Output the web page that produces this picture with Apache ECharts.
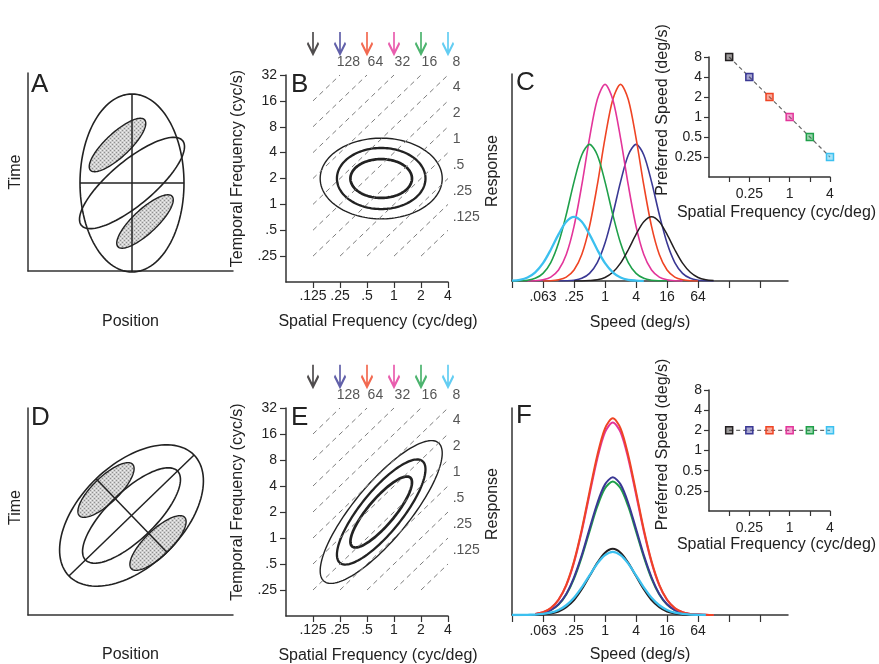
<!DOCTYPE html>
<html>
<head>
<meta charset="utf-8">
<title>Speed tuning figure</title>
<script src="https://cdn.jsdelivr.net/npm/echarts@6/dist/echarts.min.js"></script>
<style>
html,body{margin:0;padding:0;background:#fff;}
#chart{width:879px;height:664px;}
</style>
</head>
<body>
<div id="chart"></div>
<script>
const L2 = Math.log2;
const FONT = '"Liberation Sans", Arial, Helvetica, sans-serif';
const INK = '#222222';
const AXC = '#333333';

// ================= DATA =================
// Panels A / D: space-time receptive field sketch, panel units (x = position, y = time)
// [centerX, centerY, semiAxis1, semiAxis2, tiltDeg]
const rfA_outer = [104, 88, 52, 89, 0];
const rfA_inner = [104, 88, 66, 22, 40];
const rfA_lobe1 = [89.5, 126, 37, 12, 43];
const rfA_lobe2 = [117, 49.5, 37, 12, 43];
const rfD_outer = [103.5, 99.5, 87, 51, 44];
const rfD_inner = [103.5, 99.5, 64, 24, 44];
const rfD_lobe1 = [78, 125, 37, 13, 44];
const rfD_lobe2 = [130, 72, 37, 13, 44];

// Panels B / E: spectral receptive field contours
const sfTicks = [0.125, 0.25, 0.5, 1, 2, 4];
const sfTickLabels = ['.125', '.25', '.5', '1', '2', '4'];
const tfTicks = [0.25, 0.5, 1, 2, 4, 8, 16, 32];
const tfTickLabels = ['.25', '.5', '1', '2', '4', '8', '16', '32'];
const isoSpeeds = [128, 64, 32, 16, 8, 4, 2, 1, 0.5, 0.25, 0.125];
const isoSpeedLabels = ['128', '64', '32', '16', '8', '4', '2', '1', '.5', '.25', '.125'];
const contourCenterSF = 0.72;
const contourCenterTF = 2.0;
const contourSemiSF = [1.14, 1.64, 2.26];   // octaves
const contourSemiTF = [0.75, 1.18, 1.56];   // octaves
const contourShearB = 0;
const contourShearE = 1;

// stimulus spatial frequencies (arrows / curve colours)
const stimSF = [0.125, 0.25, 0.5, 1, 2, 4];
const stimColors = ['#231f20', '#3a3894', '#ef4424', '#e3359a', '#1fa04a', '#3cc0ef'];

// Panels C / F: speed tuning curves
const speedTicks = [1 / 64, 1 / 16, 1 / 4, 1, 4, 16, 64, 256, 1024];
const speedTickLabels = ['', '.063', '.25', '1', '4', '16', '64', '', ''];
const speedLog2 = [-6, -5.5, -5, -4.5, -4, -3.5, -3, -2.5, -2, -1.5, -1, -0.5, 0, 0.5, 1, 1.5, 2, 2.5, 3, 3.5, 4, 4.5, 5, 5.5, 6, 6.5, 7];

const respC_sf0125 = [null, null, null, null, null, null, null, null, 0, 0, .002, .006, .017, .042, .086, .151, .225, .286, .310, .286, .225, .151, .086, .042, .017, .006, .002];
const respC_sf025 = [null, null, null, null, null, null, 0, .001, .004, .013, .037, .089, .183, .321, .479, .609, .660, .609, .479, .321, .183, .089, .037, .013, .004, .001, 0];
const respC_sf05 = [null, null, null, null, 0, .001, .006, .019, .053, .128, .264, .463, .690, .877, .950, .877, .690, .463, .264, .128, .053, .019, .006, .001, 0, null, null];
const respC_sf1 = [null, null, 0, .001, .006, .019, .053, .128, .264, .463, .690, .877, .950, .877, .690, .463, .264, .128, .053, .019, .006, .001, 0, null, null, null, null];
const respC_sf2 = [0, .001, .004, .013, .037, .089, .183, .321, .479, .609, .660, .609, .479, .321, .183, .089, .037, .013, .004, .001, 0, null, null, null, null, null, null];
const respC_sf4 = [.002, .006, .017, .042, .086, .151, .225, .286, .310, .286, .225, .151, .086, .042, .017, .006, .002, 0, null, null, null, null, null, null, null, null, null];

const respF_sf0125 = [null, null, null, .001, .003, .007, .017, .038, .072, .124, .188, .252, .301, .320, .301, .252, .188, .124, .072, .038, .017, .007, .003, .001, 0, null, null];
const respF_sf025 = [null, null, null, .004, .010, .024, .052, .102, .182, .289, .416, .540, .631, .665, .631, .540, .416, .289, .182, .102, .052, .024, .010, .004, .001, 0, null];
const respF_sf05 = [null, null, null, .005, .014, .034, .074, .146, .259, .413, .595, .771, .902, .950, .902, .771, .595, .413, .259, .146, .074, .034, .014, .005, .002, .001, 0];
const respF_sf1 = [null, null, null, .005, .014, .033, .073, .143, .254, .405, .582, .755, .883, .930, .883, .755, .582, .405, .254, .143, .073, .033, .014, .005, .002, .001, 0];
const respF_sf2 = [null, null, null, .004, .010, .023, .050, .099, .176, .281, .404, .524, .612, .645, .612, .524, .404, .281, .176, .099, .050, .023, .010, .004, .001, 0, null];
const respF_sf4 = [0, 0, .001, .002, .005, .011, .024, .047, .083, .133, .191, .248, .289, .305, .289, .248, .191, .133, .083, .047, .024, .011, .005, .002, .001, 0, null];

// Insets: preferred speed vs spatial frequency
const insetSF = [0.125, 0.25, 0.5, 1, 2, 4];
const insetSFTickLabels = ['', '0.25', '', '1', '', '4'];
const insetSpeedTicks = [0.25, 0.5, 1, 2, 4, 8];
const insetSpeedTickLabels = ['0.25', '0.5', '1', '2', '4', '8'];
const prefSpeedC = [8, 4, 2, 1, 0.5, 0.25];
const prefSpeedF = [2, 2, 2, 2, 2, 2];

// ================= HELPERS =================
function makeHatch() {
  const c = document.createElement('canvas');
  c.width = 4; c.height = 4;
  const g = c.getContext('2d');
  g.fillStyle = '#cfcfcf'; g.fillRect(0, 0, 4, 4);
  g.fillStyle = '#8f8f8f'; g.fillRect(0, 0, 1, 1); g.fillRect(2, 2, 1, 1);
  g.fillStyle = '#f0f0f0'; g.fillRect(2, 0, 1, 1); g.fillRect(0, 2, 1, 1);
  return { image: c, repeat: 'repeat' };
}
const hatch = makeHatch();

function tint(hex, a) {
  const n = parseInt(hex.slice(1), 16);
  return 'rgba(' + (n >> 16) + ',' + ((n >> 8) & 255) + ',' + (n & 255) + ',' + a + ')';
}
function lookup(ticks, labels) {
  return v => { const i = ticks.findIndex(t => Math.abs(L2(t) - v) < 1e-6); return i < 0 ? '' : labels[i]; };
}
function ellipsePts(cx, cy, a, b, deg) {
  const th = deg * Math.PI / 180, c = Math.cos(th), s = Math.sin(th), n = 120, pts = [];
  for (let k = 0; k < n; k++) {
    const t = 2 * Math.PI * k / n, x = a * Math.cos(t), y = b * Math.sin(t);
    pts.push([cx + x * c - y * s, cy + x * s + y * c]);
  }
  return pts;
}
function toXY(arr) {
  const out = [];
  arr.forEach((v, i) => { if (v !== null) out.push([speedLog2[i], v]); });
  return out;
}

function plainAxis(grid, min, max, name, gap, pad, rot) {
  return {
    type: 'value', gridIndex: grid, min: min, max: max,
    axisLine: { show: true, onZero: false, lineStyle: { color: AXC, width: 1.5 } },
    axisTick: { show: false }, axisLabel: { show: false }, splitLine: { show: false },
    name: name, nameLocation: 'middle', nameGap: gap, nameRotate: rot || 0,
    nameTextStyle: { fontFamily: FONT, fontSize: 16, color: INK, padding: pad || 0 }
  };
}
function tickedAxis(grid, min, max, ticks, labels, labelTicks, name, gap, pad, rot, tickLen, margin) {
  const o = plainAxis(grid, min, max, name, gap, pad, rot);
  o.axisTick = { show: true, customValues: ticks.map(L2), length: tickLen, lineStyle: { color: AXC, width: 1.2 } };
  o.axisLabel = { show: true, customValues: labelTicks.map(L2), formatter: lookup(ticks, labels), margin: margin,
    fontFamily: FONT, fontSize: 14, color: INK };
  return o;
}

function rfSeries(gi, outer, inner, lobes) {
  return {
    type: 'custom', xAxisIndex: gi, yAxisIndex: gi, coordinateSystem: 'cartesian2d', silent: true,
    data: [[outer[0], outer[1]]],
    renderItem: (params, api) => {
      const poly = e => ellipsePts(e[0], e[1], e[2], e[3], e[4]).map(p => api.coord(p));
      const ch = [];
      lobes.forEach(e => ch.push({ type: 'polygon', shape: { points: poly(e) }, style: { fill: hatch, stroke: INK, lineWidth: 1.4 } }));
      ch.push({ type: 'polygon', shape: { points: poly(inner) }, style: { fill: 'none', stroke: INK, lineWidth: 1.6 } });
      ch.push({ type: 'polygon', shape: { points: poly(outer) }, style: { fill: 'none', stroke: INK, lineWidth: 1.6 } });
      const cx = outer[0], cy = outer[1], a = outer[2], b = outer[3], th = outer[4] * Math.PI / 180;
      const c = Math.cos(th), s = Math.sin(th);
      const lines = [
        [[cx - a * c, cy - a * s], [cx + a * c, cy + a * s]],
        [[cx + b * s, cy - b * c], [cx - b * s, cy + b * c]]
      ];
      lines.forEach(l => {
        const p = api.coord(l[0]), q = api.coord(l[1]);
        ch.push({ type: 'line', shape: { x1: p[0], y1: p[1], x2: q[0], y2: q[1] }, style: { stroke: INK, lineWidth: 1.5 } });
      });
      return { type: 'group', children: ch };
    }
  };
}

function contourSeries(gi, shear) {
  const cx = L2(contourCenterSF), cy = L2(contourCenterTF);
  const widths = [2.7, 2.3, 1.4];
  return {
    type: 'custom', xAxisIndex: gi, yAxisIndex: gi, coordinateSystem: 'cartesian2d', silent: true,
    data: [[cx, cy]],
    renderItem: (params, api) => {
      const ch = contourSemiSF.map((rx, k) => {
        const ry = contourSemiTF[k], pts = [];
        for (let j = 0; j < 140; j++) {
          const t = 2 * Math.PI * j / 140, dx = rx * Math.cos(t);
          pts.push(api.coord([cx + dx, cy + ry * Math.sin(t) + shear * dx]));
        }
        return { type: 'polygon', shape: { points: pts }, style: { fill: 'none', stroke: INK, lineWidth: widths[k] } };
      });
      return { type: 'group', children: ch };
    }
  };
}

function isoSeries(gi) {
  const xmin = L2(sfTicks[0]), xmax = L2(sfTicks[sfTicks.length - 1]);
  const ymin = L2(tfTicks[0]), ymax = L2(tfTicks[tfTicks.length - 1]);
  return isoSpeeds.map(v => {
    const lv = L2(v), x0 = Math.max(xmin, ymin - lv), x1 = Math.min(xmax, ymax - lv);
    return {
      type: 'line', xAxisIndex: gi, yAxisIndex: gi, silent: true, symbol: 'none',
      data: [[x0, x0 + lv], [x1, x1 + lv]],
      lineStyle: { color: '#7d7d7d', width: 1, type: [5, 4] }
    };
  });
}

function isoLabelSeries(gi) {
  const xmax = L2(sfTicks[sfTicks.length - 1]), ymax = L2(tfTicks[tfTicks.length - 1]);
  const data = isoSpeeds.map((v, i) => {
    const lv = L2(v);
    if (ymax - lv <= xmax) {
      return { name: isoSpeedLabels[i], value: [ymax - lv + 0.33, ymax + 0.46], label: { align: 'center' } };
    }
    return { name: isoSpeedLabels[i], value: [xmax + 0.19, xmax + lv + 0.5], label: { align: 'left' } };
  });
  return {
    type: 'scatter', xAxisIndex: gi, yAxisIndex: gi, clip: false, silent: true,
    symbol: 'circle', symbolSize: 1, itemStyle: { color: 'rgba(0,0,0,0)' }, data: data,
    label: { show: true, position: [0, 0], formatter: '{b}', verticalAlign: 'middle',
      fontFamily: FONT, fontSize: 14, color: '#2a2a2a' }
  };
}

function arrowSeries(gi) {
  const ymax = L2(tfTicks[tfTicks.length - 1]);
  return {
    type: 'scatter', xAxisIndex: gi, yAxisIndex: gi, clip: false, silent: true,
    symbol: 'path://M5 0L5 20M0.5 10.5L5 21L9.5 10.5', symbolSize: [11, 22],
    data: stimSF.map((sf, i) => ({
      value: [L2(sf), ymax + 1.24],
      itemStyle: { color: 'rgba(0,0,0,0)', borderColor: stimColors[i], borderWidth: 2.4 }
    }))
  };
}

function curveSeries(gi, arr, color, w) {
  return {
    type: 'line', xAxisIndex: gi, yAxisIndex: gi, silent: true, symbol: 'none',
    smooth: 0.3, data: toXY(arr), lineStyle: { color: color, width: w }
  };
}

function insetSeries(gi, speeds) {
  return {
    type: 'line', xAxisIndex: gi, yAxisIndex: gi, silent: true, symbol: 'rect', symbolSize: 7, showSymbol: true,
    lineStyle: { color: '#666', width: 1.2, type: [4, 3] },
    data: insetSF.map((sf, i) => ({
      value: [L2(sf), L2(speeds[i])],
      itemStyle: { color: tint(stimColors[i], 0.45), borderColor: stimColors[i], borderWidth: 1.5 }
    }))
  };
}

// ================= OPTION =================
const grids = [
  { left: 28, top: 73, width: 205, height: 198 },   // A
  { left: 286, top: 75, width: 162, height: 207 },  // B
  { left: 512, top: 74, width: 276, height: 207 },  // C
  { left: 709, top: 57, width: 121, height: 120 },  // C inset
  { left: 28, top: 408, width: 205, height: 207 },  // D
  { left: 286, top: 408, width: 162, height: 208 }, // E
  { left: 512, top: 408, width: 276, height: 207 }, // F
  { left: 709, top: 390, width: 121, height: 121 }  // F inset
].map(g => Object.assign({ containLabel: false, outerBoundsMode: 'none' }, g));

const sfName = 'Spatial Frequency (cyc/deg)';
const tfName = 'Temporal Frequency (cyc/s)';
const spName = 'Speed (deg/s)';
const psName = 'Preferred Speed (deg/s)';

const xAxes = [
  plainAxis(0, 0, 205, 'Position', 43),
  tickedAxis(1, -4, 2, sfTicks, sfTickLabels, sfTicks, sfName, 32, [0, 0, 0, 22], 0, 6, 7),
  tickedAxis(2, -6, 11.8, speedTicks, speedTickLabels, speedTicks, spName, 34, [0, 20, 0, 0], 0, 7, 9),
  tickedAxis(3, -4, 2, insetSF, insetSFTickLabels, insetSF, sfName, 28, [0, 0, 0, 14], 0, 5, 10),
  plainAxis(4, 0, 205, 'Position', 32),
  tickedAxis(5, -4, 2, sfTicks, sfTickLabels, sfTicks, sfName, 32, [0, 0, 0, 22], 0, 6, 7),
  tickedAxis(6, -6, 11.8, speedTicks, speedTickLabels, speedTicks, spName, 32, [0, 20, 0, 0], 0, 7, 9),
  tickedAxis(7, -4, 2, insetSF, insetSFTickLabels, insetSF, sfName, 26, [0, 0, 0, 14], 0, 5, 10)
];
const yAxes = [
  plainAxis(0, 0, 198, 'Time', 4, 0, 90),
  tickedAxis(1, -3, 5, tfTicks, tfTickLabels, tfTicks, tfName, 40, [0, 0, 0, 20], 90, 6, 9),
  plainAxis(2, 0, 1, 'Response', 11, [0, 0, 0, 13], 90),
  tickedAxis(3, -3, 3, insetSpeedTicks, insetSpeedTickLabels, insetSpeedTicks, psName, 38, [0, 0, 0, 14], 90, 5, 7),
  plainAxis(4, 0, 207, 'Time', 4, [0, 0, 0, 8], 90),
  tickedAxis(5, -3, 5, tfTicks, tfTickLabels, tfTicks, tfName, 40, [0, 0, 0, 20], 90, 6, 9),
  plainAxis(6, 0, 1, 'Response', 11, [0, 0, 0, 15], 90),
  tickedAxis(7, -3, 3, insetSpeedTicks, insetSpeedTickLabels, insetSpeedTicks, psName, 38, [0, 0, 0, 12], 90, 5, 7)
];

const series = [];
series.push(rfSeries(0, rfA_outer, rfA_inner, [rfA_lobe1, rfA_lobe2]));
series.push(rfSeries(4, rfD_outer, rfD_inner, [rfD_lobe1, rfD_lobe2]));
[[1, contourShearB], [5, contourShearE]].forEach(([gi, sh]) => {
  isoSeries(gi).forEach(s => series.push(s));
  series.push(contourSeries(gi, sh));
  series.push(isoLabelSeries(gi));
  series.push(arrowSeries(gi));
});
// C curves (draw order chosen so cyan sits on the left baseline, black on the right)
[[respC_sf025, 1, 1.6], [respC_sf05, 2, 1.6], [respC_sf1, 3, 1.6], [respC_sf2, 4, 1.6],
 [respC_sf0125, 0, 1.5], [respC_sf4, 5, 2.3]].forEach(([arr, ci, w]) => series.push(curveSeries(2, arr, stimColors[ci], w)));
series.push(insetSeries(3, prefSpeedC));
// F curves
[[respF_sf0125, 0, 2], [respF_sf2, 4, 2], [respF_sf025, 1, 2], [respF_sf1, 3, 2],
 [respF_sf05, 2, 2], [respF_sf4, 5, 2.3]].forEach(([arr, ci, w]) => series.push(curveSeries(6, arr, stimColors[ci], w)));
series.push(insetSeries(7, prefSpeedF));

const letters = [['A', 31, 72], ['B', 291, 72], ['C', 516, 70], ['D', 31, 405], ['E', 291, 405], ['F', 516, 403]];

const option = {
  animation: false,
  backgroundColor: '#ffffff',
  textStyle: { fontFamily: FONT },
  grid: grids,
  xAxis: xAxes,
  yAxis: yAxes,
  series: series,
  graphic: letters.map(([t, x, y]) => ({
    type: 'text', left: x, top: y, silent: true,
    style: { text: t, fontSize: 26, fontFamily: FONT, fill: INK }
  }))
};

const chart = echarts.init(document.getElementById('chart'), null, { renderer: 'canvas' });
chart.setOption(option);
</script>
</body>
</html>
